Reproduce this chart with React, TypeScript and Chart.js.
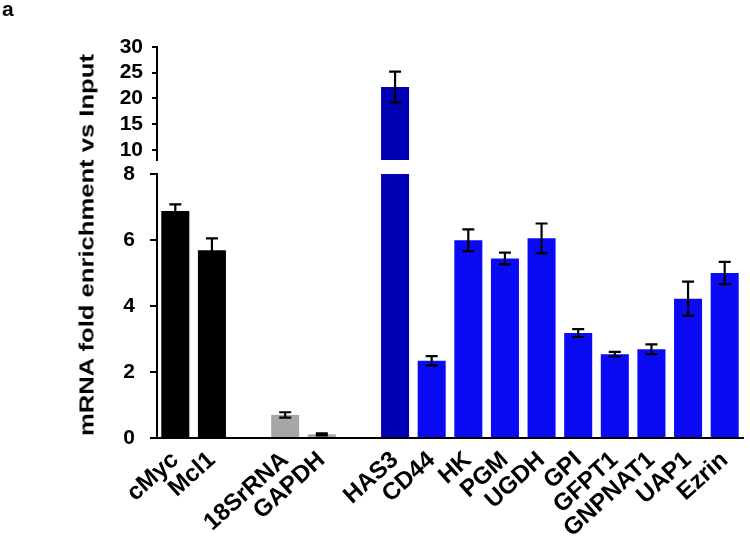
import React, { useEffect, useRef } from 'react';
import { Chart, registerables } from 'chart.js';

Chart.register(...registerables);

const categories = ['cMyc', 'Mcl1', '', '18SrRNA', 'GAPDH', '', 'HAS3', 'CD44', 'HK', 'PGM', 'UGDH', 'GPI', 'GFPT1', 'GNPNAT1', 'UAP1', 'Ezrin'];
const values: (number | null)[] = [6.88, 5.69, null, 0.70, 0.11, null, 22.2, 2.34, 5.99, 5.44, 6.05, 3.18, 2.54, 2.69, 4.22, 5.0];
const errors: (number | null)[] = [0.2, 0.36, null, 0.08, 0.03, null, 3.0, 0.14, 0.33, 0.18, 0.45, 0.12, 0.07, 0.15, 0.52, 0.34];
const lowerTicks = [0, 2, 4, 6, 8];
const upperTicks = [10, 15, 20, 25, 30];
const lowerMax = 8;
const upperMin = 8;
const upperMax = 30;

const BLACK = '#000000';
const GRAY = '#a6a6a6';
const DARKBLUE = '#0000b4';
const BLUE = '#0a0af5';
const barColors = [BLACK, BLACK, BLACK, GRAY, GRAY, GRAY, DARKBLUE, BLUE, BLUE, BLUE, BLUE, BLUE, BLUE, BLUE, BLUE, BLUE];

const FONT = "'Liberation Sans', Arial, sans-serif";

const errorBars = {
  id: 'errorBars',
  afterDatasetsDraw(chart: any) {
    const ctx = chart.ctx;
    ctx.save();
    ctx.strokeStyle = '#000';
    ctx.lineWidth = 2.2;
    chart.data.datasets.forEach((ds: any, di: number) => {
      const meta = chart.getDatasetMeta(di);
      const yScale = chart.scales[meta.yAxisID];
      meta.data.forEach((bar: any, i: number) => {
        const v = values[i];
        const e = ds.errs[i];
        if (v == null || e == null) return;
        const x = bar.x;
        const yt = yScale.getPixelForValue(v + e);
        const yb = yScale.getPixelForValue(v - e);
        const hw = 6;
        ctx.beginPath();
        ctx.moveTo(x, yt);
        ctx.lineTo(x, yb);
        ctx.moveTo(x - hw, yt);
        ctx.lineTo(x + hw, yt);
        ctx.moveTo(x - hw, yb);
        ctx.lineTo(x + hw, yb);
        ctx.stroke();
      });
    });
    ctx.restore();
  },
};

export default function App() {
  const ref = useRef<HTMLCanvasElement | null>(null);

  useEffect(() => {
    if (!ref.current) return;
    const lowerData = values.map((v) => (v == null ? null : Math.min(v, lowerMax)));
    const upperData = values.map((v) => (v != null && v > lowerMax ? v : null));
    const lowerErr = values.map((v, i) => (v != null && v <= lowerMax ? errors[i] : null));
    const upperErr = values.map((v, i) => (v != null && v > lowerMax ? errors[i] : null));

    const tickFont = { family: FONT, size: 21, weight: 'bold' as const };

    const chart = new Chart(ref.current, {
      type: 'bar',
      data: {
        labels: categories,
        datasets: [
          {
            data: lowerData,
            errs: lowerErr,
            backgroundColor: barColors,
            yAxisID: 'y',
            grouped: false,
            barPercentage: 0.765,
            categoryPercentage: 1,
          } as any,
          {
            data: upperData,
            errs: upperErr,
            backgroundColor: barColors,
            yAxisID: 'yTop',
            grouped: false,
            barPercentage: 0.765,
            categoryPercentage: 1,
          } as any,
        ],
      },
      options: {
        animation: false,
        responsive: false,
        devicePixelRatio: 1,
        layout: { padding: { left: 0, top: 47, right: 7, bottom: 0 } },
        plugins: { legend: { display: false }, tooltip: { enabled: false } },
        scales: {
          x: {
            grid: { display: false },
            border: { display: true, color: '#000', width: 2 },
            ticks: {
              color: '#000',
              font: { family: FONT, size: 24, weight: 'bold' },
              minRotation: 42,
              maxRotation: 42,
              autoSkip: false,
              padding: 0,
            },
            afterFit(scale: any) {
              scale.height = 98;
            },
          },
          y: {
            type: 'linear',
            position: 'left',
            stack: 'brk',
            stackWeight: 264,
            min: 0,
            max: lowerMax,
            afterBuildTicks(scale: any) {
              scale.ticks = lowerTicks.map((v) => ({ value: v }));
            },
            grid: { drawOnChartArea: false, drawTicks: true, tickLength: 7, color: '#000', lineWidth: 2 },
            border: { display: true, color: '#000', width: 2 },
            ticks: { color: '#000', font: tickFont, padding: 15, autoSkip: false },
            afterFit(scale: any) {
              scale.width = 157;
            },
          },
          yGap: {
            type: 'linear',
            position: 'left',
            stack: 'brk',
            stackWeight: 14,
            min: 0,
            max: 1,
            grid: { display: false },
            border: { display: false },
            ticks: { display: false },
            afterFit(scale: any) {
              scale.width = 157;
            },
          },
          yTop: {
            type: 'linear',
            position: 'left',
            stack: 'brk',
            stackWeight: 113,
            min: upperMin,
            max: upperMax,
            afterBuildTicks(scale: any) {
              scale.ticks = upperTicks.map((v) => ({ value: v }));
            },
            grid: { drawOnChartArea: false, drawTicks: true, tickLength: 5, color: '#000', lineWidth: 2 },
            border: { display: true, color: '#000', width: 2 },
            ticks: { color: '#000', font: tickFont, padding: 9, autoSkip: false },
            afterFit(scale: any) {
              scale.width = 157;
            },
          },
        },
      } as any,
      plugins: [errorBars],
    });
    return () => chart.destroy();
  }, []);

  return (
    <div style={{ position: 'absolute', left: 0, top: 0, width: 750, height: 536, background: '#fff' }}>
      <canvas ref={ref} width={750} height={536} style={{ position: 'absolute', left: 0, top: 0, width: 750, height: 536 }} />
      <div
        style={{
          position: 'absolute',
          left: 2,
          top: -4,
          fontFamily: FONT,
          fontWeight: 'bold',
          fontSize: 21,
          lineHeight: 1.2,
          color: '#000',
        }}
      >
        a
      </div>
      <div
        style={{
          position: 'absolute',
          left: 86,
          top: 245,
          transform: 'translate(-50%, -50%) rotate(-90deg) scaleX(1.22)',
          fontFamily: FONT,
          fontWeight: 'bold',
          fontSize: 21,
          lineHeight: 1,
          whiteSpace: 'nowrap',
          color: '#000',
        }}
      >
        mRNA fold enrichment vs Input
      </div>
    </div>
  );
}
